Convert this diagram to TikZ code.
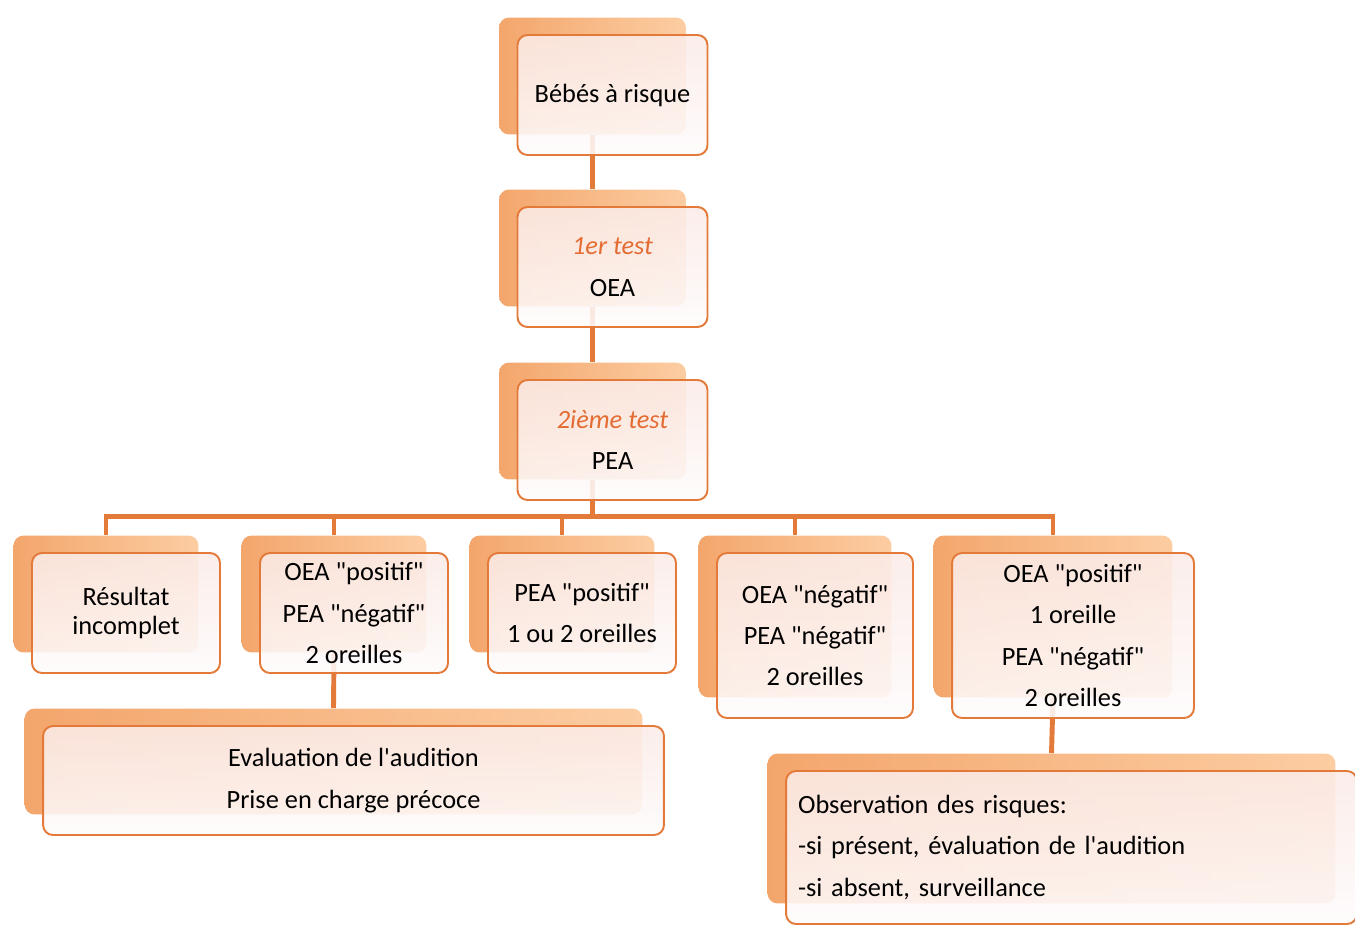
\documentclass[tikz,border=0pt]{standalone}
\usepackage{fontspec}
\setmainfont{Carlito}[Ligatures=TeXOff]
\usetikzlibrary{fit,backgrounds}
\definecolor{boxline}{RGB}{228,122,58}
\definecolor{testtext}{RGB}{228,108,50}
\definecolor{backlight}{RGB}{252,205,162}
\definecolor{backdark}{RGB}{243,166,108}
\definecolor{cardtop}{RGB}{251,235,231}
\definecolor{cardbottom}{RGB}{254,251,252}

\begin{document}
\begin{tikzpicture}[x=0.02cm,y=-0.02cm]
	\useasboundingbox (0,0) rectangle (1355,924);
	\tikzstyle{card}=[draw=boxline,line width=1.1pt,rounded corners=0.2cm,top color=cardtop,bottom color=cardbottom,fill opacity=0.88,text opacity=1,align=center,font=\fontsize{15}{23.5}\selectfont,minimum width=3.8cm,minimum height=2.4cm,inner sep=0pt]
	\tikzstyle{backcard}=[rounded corners=0.2cm,left color=backdark,right color=backlight,inner sep=-0.05cm,xshift=-0.4cm,yshift=0.38cm]
	\tikzstyle{link}=[draw=boxline,line width=2.8pt]
	% main column
	\node[card] (bebes) at (612.5,95) {Bébés à risque};
	\node[card] (test1) at (612.5,267) {{\color{testtext}\itshape 1er test}\\OEA};
	\node[card] (pea) at (612.5,440) {{\color{testtext}\itshape 2ième test}\\PEA};
	% results
	\node[card,minimum width=3.76cm,font=\fontsize{15}{16.5}\selectfont] (res) at (126,613) {Résultat\\incomplet};
	\node[card,minimum width=3.76cm] (oeapos) at (354,613) {OEA "positif"\\PEA "négatif"\\2 oreilles};
	\node[card,minimum width=3.76cm] (peapos) at (582,613) {PEA "positif"\\1 ou 2 oreilles};
	\node[card,minimum width=3.92cm,minimum height=3.3cm] (oeaneg) at (815,635.5) {OEA "négatif"\\PEA "négatif"\\2 oreilles};
	\node[card,minimum width=4.84cm,minimum height=3.3cm] (oeapos1) at (1073,635.5) {OEA "positif"\\1 oreille\\PEA "négatif"\\2 oreilles};
	% follow-up
	\node[card,minimum width=12.42cm,minimum height=2.18cm] (eval) at (353.5,780.5) {Evaluation de l'audition\\Prise en charge précoce};
	\node[card,text width=10.94cm,inner xsep=0.24cm,minimum height=3.06cm,align=left] (obs) at (1071.5,847.5) {Observation des risques:\\-si présent, évaluation de l'audition\\-si absent, surveillance};
	\begin{scope}[on background layer]
		\foreach \n in {bebes,test1,pea,res,oeapos,peapos,oeaneg,oeapos1,eval,obs}
			\node[backcard,fit=(\n)] (\n-bk) {};
		\draw[link] (bebes-bk.south) -- (test1-bk.north);
		\draw[link] (test1-bk.south) -- (pea-bk.north);
		\foreach \c in {res,oeapos,peapos,oeaneg,oeapos1}
			\draw[link] (pea-bk.south) -- ++(0,37) -| (\c-bk.north);
		\draw[link] (oeapos-bk.south) -- (eval-bk.north);
		\draw[link] (oeapos1-bk.south) -- (obs-bk.north);
	\end{scope}
\end{tikzpicture}
\end{document}
